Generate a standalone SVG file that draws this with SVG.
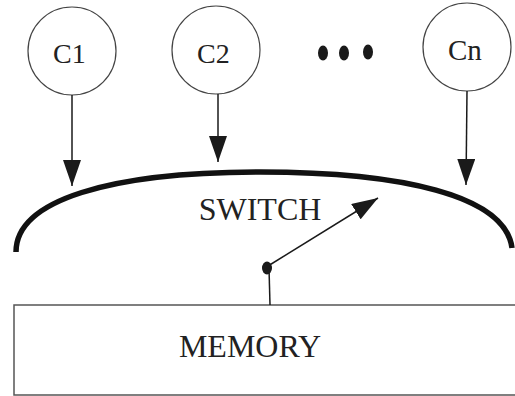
<svg xmlns="http://www.w3.org/2000/svg" width="515" height="396" viewBox="0 0 515 396">
  <defs>
    <style>
      .node { fill: #ffffff; stroke: #444444; stroke-width: 1.2; }
      .lbl { fill: #222222; font-family: 'Liberation Serif', 'Times New Roman', Times, 'DejaVu Serif', serif; }
      .conn { stroke: #1a1a1a; stroke-width: 1.5; fill: none; }
    </style>
    <marker id="ah" viewBox="0 0 26 18" refX="26" refY="9" markerWidth="26" markerHeight="18" markerUnits="userSpaceOnUse" orient="auto">
      <path d="M0,0 L26,9 L0,18 z" fill="#1a1a1a"/>
    </marker>
  </defs>
  <rect width="515" height="396" fill="#ffffff"/>

  <g id="c1">
    <circle class="node" cx="72" cy="51" r="44"/>
    <text class="lbl" x="53" y="63" font-size="28">C1</text>
  </g>
  <g id="c2">
    <circle class="node" cx="216" cy="50" r="44"/>
    <text class="lbl" x="197" y="63" font-size="28">C2</text>
  </g>
  <g id="dots">
    <ellipse cx="323" cy="53" rx="5" ry="7.5" fill="#1a1a1a"/>
    <ellipse cx="344" cy="53" rx="5" ry="7.5" fill="#1a1a1a"/>
    <ellipse cx="368" cy="52" rx="5" ry="7.5" fill="#1a1a1a"/>
  </g>
  <g id="cn">
    <circle class="node" cx="467" cy="47" r="44"/>
    <text class="lbl" x="448" y="60" font-size="29">Cn</text>
  </g>

  <g id="switch">
    <path d="M16,252 C16,200 110,172 260,172 C400,172 505,195 512,248" fill="none" stroke="#111111" stroke-width="5.5"/>
    <text class="lbl" x="260" y="220" font-size="32" text-anchor="middle">SWITCH</text>
  </g>

  <g id="memory">
    <rect x="14" y="305" width="520" height="90" fill="#ffffff" stroke="#555555" stroke-width="1.5"/>
    <text class="lbl" x="250" y="357" font-size="32" text-anchor="middle">MEMORY</text>
  </g>

  <g id="connectors">
    <line class="conn" x1="72" y1="95" x2="72" y2="186" marker-end="url(#ah)"/>
    <line class="conn" x1="218" y1="94" x2="218" y2="162" marker-end="url(#ah)"/>
    <line class="conn" x1="467" y1="91" x2="466" y2="185" marker-end="url(#ah)"/>
    <line class="conn" x1="270" y1="305" x2="269" y2="268"/>
    <ellipse cx="267" cy="268" rx="5" ry="6.5" fill="#1a1a1a"/>
    <line class="conn" x1="268" y1="266" x2="378" y2="198" stroke-width="2" marker-end="url(#ah)"/>
  </g>
</svg>
